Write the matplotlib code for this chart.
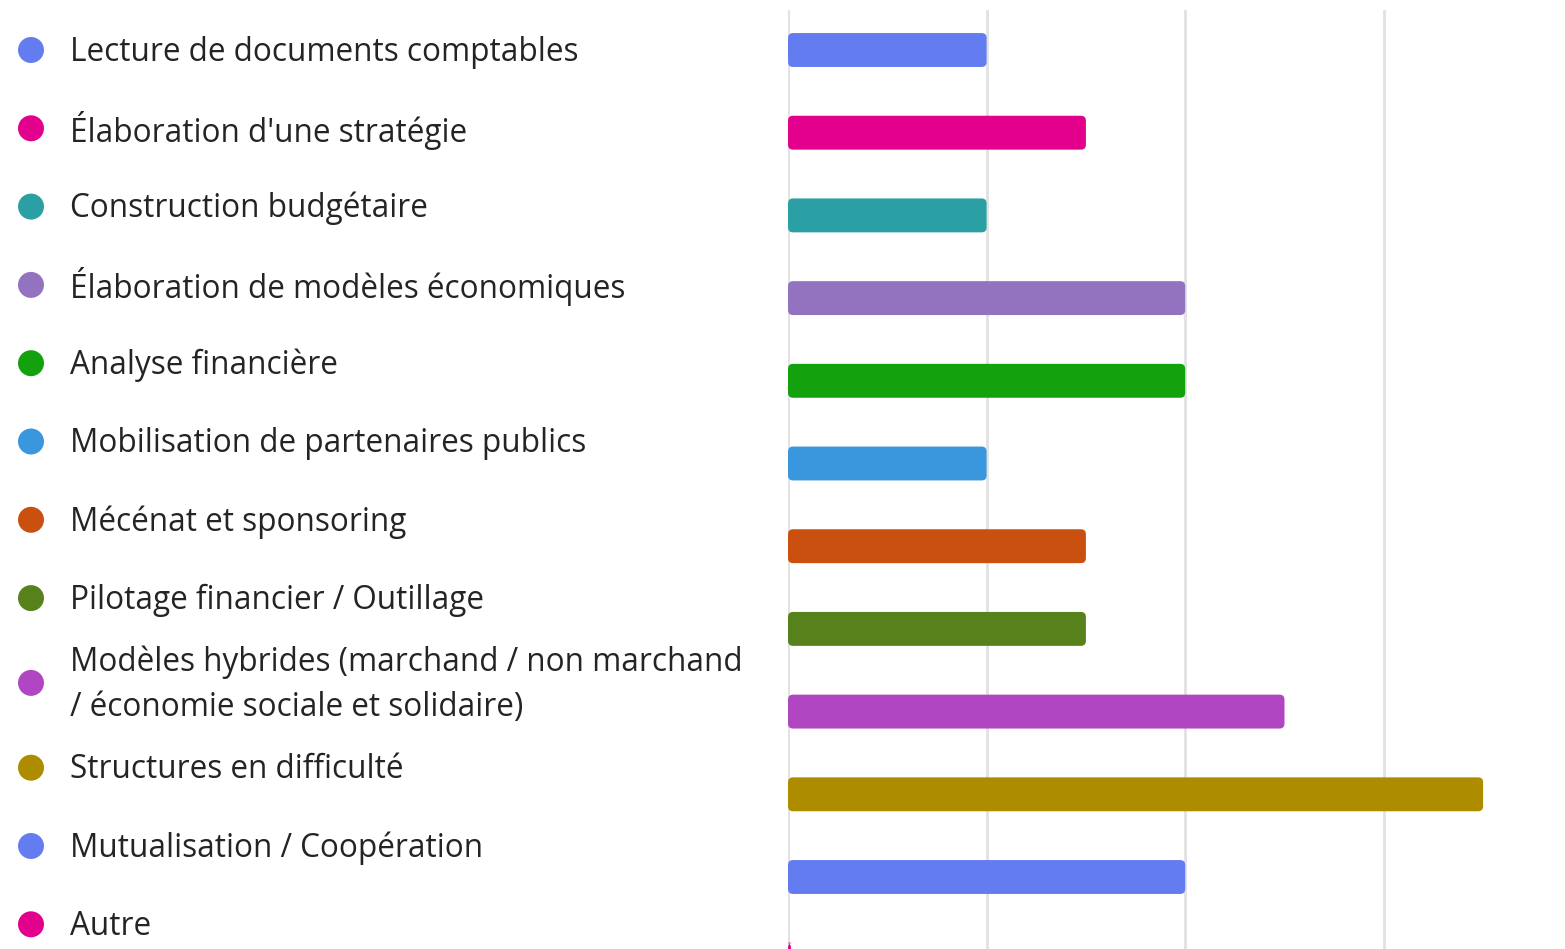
import matplotlib.pyplot as plt
from matplotlib.patches import FancyBboxPatch

labels = [
    "Lecture de documents comptables",
    "Élaboration d'une stratégie",
    "Construction budgétaire",
    "Élaboration de modèles économiques",
    "Analyse financière",
    "Mobilisation de partenaires publics",
    "Mécénat et sponsoring",
    "Pilotage financier / Outillage",
    "Modèles hybrides (marchand / non marchand\n/ économie sociale et solidaire)",
    "Structures en difficulté",
    "Mutualisation / Coopération",
    "Autre",
]
values = [2, 3, 2, 4, 4, 2, 3, 3, 5, 7, 4, 0]
colors = ["#637CEF", "#E3008C", "#2AA0A4", "#9373C0", "#13A10E", "#3A96DD",
          "#CA5010", "#57811B", "#B146C2", "#AE8C00", "#637CEF", "#E3008C"]

W, H = 1565, 949
fig = plt.figure(figsize=(W / 100, H / 100), dpi=100)
fig.patch.set_facecolor("white")

# left side: legend-like labels with dots, in pixel units
axl = fig.add_axes([0, 0, 780 / W, 1])
axl.set_xlim(0, 780)
axl.set_ylim(H, 0)
axl.axis("off")

y = 50
prev_extra = 0
for i, (lab, c) in enumerate(zip(labels, colors)):
    extra = lab.count("\n")
    if i > 0:
        y += 78.3 + 6.5 * (extra + prev_extra)
    axl.scatter([31], [y], s=350, color=c, edgecolors="none")
    axl.text(70, y + 2, lab, va="center", ha="left", fontsize=22.7,
             family="Open Sans", color="#252423", linespacing=1.5)
    prev_extra = extra

# right side: bars
x0 = 788
xpx = 99.3      # pixels per unit
pitch = 82.7    # pixels per row
axr = fig.add_axes([x0 / W, 0, (W - x0) / W, (H - 10) / H])
axr.set_ylim((H - 50) / pitch, (10 - 50) / pitch)
axr.set_xlim(0, (W - x0) / xpx)
pos = list(range(len(values)))
bars = axr.barh(pos, values, height=0.41, color=colors, zorder=3)

# swap the square bars for rounded ones
r = 5 / xpx
for b, c in zip(bars, colors):
    bx, by = b.get_x(), b.get_y()
    bw, bh = max(b.get_width(), 0.03), b.get_height()
    b.set_visible(False)
    axr.add_patch(FancyBboxPatch((bx, by), bw, bh,
                                 boxstyle=f"round,pad=0,rounding_size={r}",
                                 mutation_aspect=xpx / pitch,
                                 facecolor=c, edgecolor="none", zorder=3))

axr.set_xticks([0, 2, 4, 6])
axr.set_yticks([])
axr.grid(axis="x", color="#e1e1e1", linewidth=2, zorder=0)
axr.tick_params(length=0, labelbottom=False)
for s in axr.spines.values():
    s.set_visible(False)

fig.savefig("out.png", dpi=100, facecolor="white")
